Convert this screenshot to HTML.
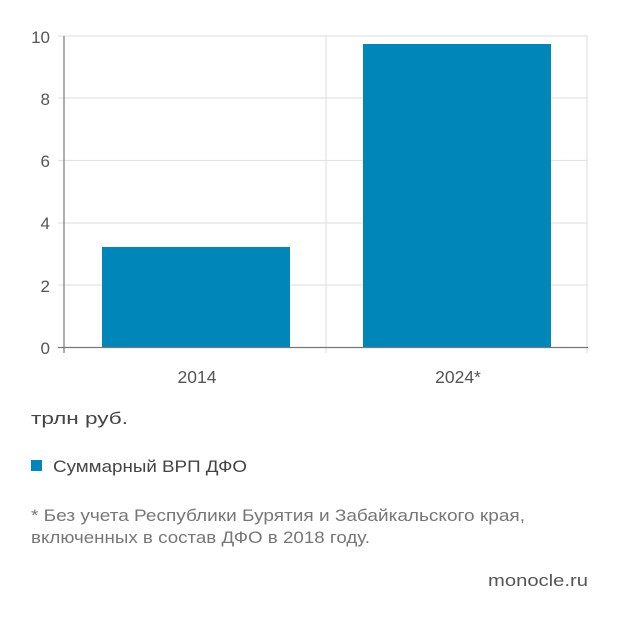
<!DOCTYPE html>
<html><head><meta charset="utf-8"><style>
body{margin:0;background:#fff;}
svg{display:block;font-family:"Liberation Sans","DejaVu Sans",sans-serif;}
</style></head><body>
<svg width="620" height="618" viewBox="0 0 620 618">
<g stroke="#e3e3e3" stroke-width="1.2">
<line x1="58" y1="36" x2="588" y2="36"/>
<line x1="58" y1="98" x2="588" y2="98"/>
<line x1="58" y1="160.5" x2="588" y2="160.5"/>
<line x1="58" y1="223" x2="588" y2="223"/>
<line x1="58" y1="285" x2="588" y2="285"/>
<line x1="326" y1="36" x2="326" y2="353"/>
<line x1="587" y1="36" x2="587" y2="353"/>
</g>
<rect x="102" y="247" width="188" height="100" fill="#0086b9"/>
<rect x="363" y="44" width="188" height="303" fill="#0086b9"/>
<g stroke="#777" stroke-width="1.2">
<line x1="64" y1="36" x2="64" y2="353"/>
<line x1="58" y1="347.5" x2="588" y2="347.5"/>
</g>
<g fill="#555" font-size="17" text-anchor="end">
<text x="50" y="43">10</text>
<text x="50" y="105">8</text>
<text x="50" y="167">6</text>
<text x="50" y="229">4</text>
<text x="50" y="292">2</text>
<text x="50" y="354">0</text>
</g>
<g fill="#555" font-size="17.5" text-anchor="middle">
<text x="197" y="383">2014</text>
<text x="458" y="383">2024*</text>
</g>
<g fill="#444" font-size="17">
<text x="31" y="424" textLength="97" lengthAdjust="spacingAndGlyphs">трлн руб.</text>
<rect x="31" y="460" width="11" height="11" fill="#0086b9"/>
<text x="53" y="472" textLength="194" lengthAdjust="spacingAndGlyphs">Суммарный ВРП ДФО</text>
</g>
<g fill="#777" font-size="17">
<text x="31" y="521" textLength="494" lengthAdjust="spacingAndGlyphs">* Без учета Республики Бурятия и Забайкальского края,</text>
<text x="31" y="543" textLength="339" lengthAdjust="spacingAndGlyphs">включенных в состав ДФО в 2018 году.</text>
</g>
<text x="588" y="586" fill="#555" font-size="17" text-anchor="end" textLength="100" lengthAdjust="spacingAndGlyphs">monocle.ru</text>
</svg>
</body></html>
